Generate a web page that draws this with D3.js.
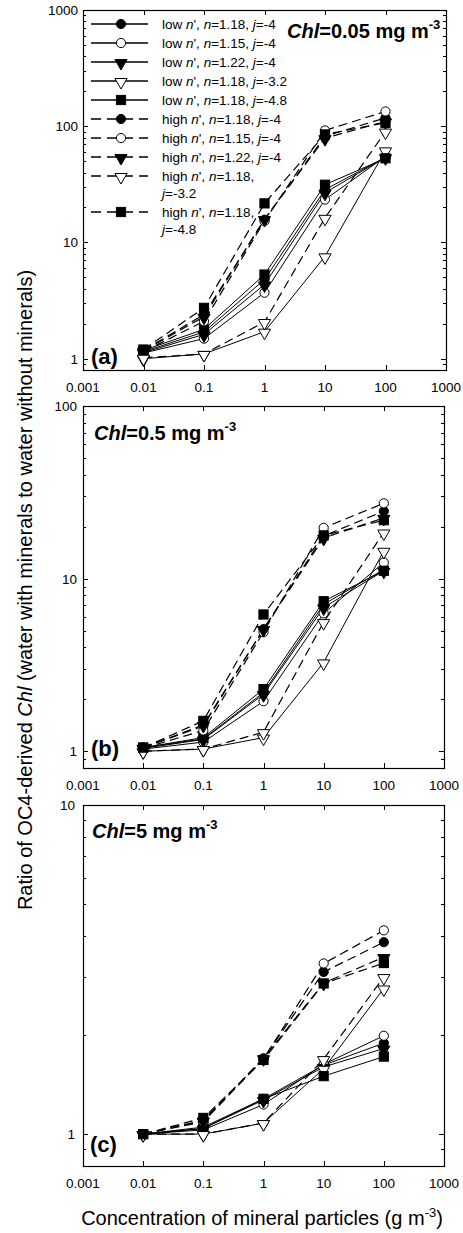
<!DOCTYPE html>
<html><head><meta charset="utf-8">
<script src="https://cdn.jsdelivr.net/npm/d3@7"></script>
<style>body{margin:0;background:#fff} text{font-family:"Liberation Sans",Arial,Helvetica,sans-serif;fill:#000}</style>
</head><body>
<svg id="chart" width="463" height="1233"></svg>
<script>
// ---------- DATA ----------
const concentrations = [0.01, 0.1, 1, 10, 100];
const xTickValues = [0.001, 0.01, 0.1, 1, 10, 100, 1000];
const xTickLabels = ["0.001", "0.01", "0.1", "1", "10", "100", "1000"];

const legendPrefix = ["low", "low", "low", "low", "low", "high", "high", "high", "high", "high"];
const legendN = ["1.18", "1.15", "1.22", "1.18", "1.18", "1.18", "1.15", "1.22", "1.18", "1.18"];
const legendJ = ["-4", "-4", "-4", "-3.2", "-4.8", "-4", "-4", "-4", "-3.2", "-4.8"];

// panel (a) Chl = 0.05 mg m-3 ; rows follow legend order
const panelA = [
  [1.15, 1.70, 4.8, 28.5, 54],
  [1.12, 1.49, 3.7, 23.4, 55],
  [1.13, 1.62, 4.35, 26.8, 54],
  [1.00, 1.10, 1.71, 7.6, 62],
  [1.18, 1.79, 5.3, 31.4, 53],
  [1.18, 2.40, 15.7, 82, 118],
  [1.15, 2.10, 15.3, 92, 134],
  [1.17, 2.30, 15.9, 79, 110],
  [1.02, 1.10, 2.07, 16.3, 90],
  [1.20, 2.74, 21.7, 85, 107]
];
const panelAYTicks = [1, 10, 100, 1000];

// panel (b) Chl = 0.5 mg m-3
const panelB = [
  [1.05, 1.18, 2.19, 7.1, 11.3],
  [1.03, 1.13, 1.95, 6.3, 12.4],
  [1.04, 1.17, 2.14, 6.8, 11.1],
  [1.00, 1.03, 1.20, 3.27, 14.5],
  [1.05, 1.20, 2.29, 7.4, 11.1],
  [1.05, 1.40, 5.1, 17.7, 24.6],
  [1.04, 1.32, 4.9, 19.7, 27.3],
  [1.05, 1.42, 5.1, 17.2, 22.5],
  [1.00, 1.03, 1.29, 5.6, 18.5],
  [1.05, 1.50, 6.2, 17.8, 21.8]
];
const panelBYTicks = [1, 10, 100];

// panel (c) Chl = 5 mg m-3
const panelC = [
  [1.00, 1.04, 1.28, 1.62, 1.89],
  [1.00, 1.03, 1.23, 1.63, 1.99],
  [1.00, 1.04, 1.27, 1.60, 1.82],
  [1.00, 1.00, 1.08, 1.58, 2.77],
  [1.00, 1.05, 1.28, 1.50, 1.72],
  [1.00, 1.10, 1.70, 3.11, 3.83],
  [1.00, 1.09, 1.69, 3.30, 4.16],
  [1.00, 1.10, 1.70, 2.88, 3.45],
  [1.00, 1.00, 1.08, 1.69, 3.00],
  [1.00, 1.12, 1.68, 2.87, 3.31]
];
const panelCYTicks = [1, 10];

const panelTitles = ["0.05", "0.5", "5"];
const panelLetters = ["(a)", "(b)", "(c)"];

// ---------- DRAWING ----------
const svg = d3.select("#chart");

const panels = [
  {vals: panelA, yTicks: panelAYTicks, ymin: 0.8, ymax: 1000, left: 83, right: 446, top: 10, bottom: 370,
   title: {x: 287, y: 38}, letter: {x: 91, y: 364}, ylabX: 78},
  {vals: panelB, yTicks: panelBYTicks, ymin: 0.8, ymax: 100, left: 83, right: 444, top: 406, bottom: 768,
   title: {x: 94, y: 440}, letter: {x: 91, y: 756}, ylabX: 77},
  {vals: panelC, yTicks: panelCYTicks, ymin: 0.8, ymax: 10, left: 83, right: 444, top: 805, bottom: 1166,
   title: {x: 92, y: 838}, letter: {x: 90, y: 1152}, ylabX: 75}
];

function marker(g, idx, cx, cy) {
  const k = idx % 5;
  const open = (k === 1 || k === 3);
  let el;
  if (k === 0 || k === 1) {
    el = g.append("circle").attr("cx", cx).attr("cy", cy).attr("r", 4.6);
  } else if (k === 2 || k === 3) {
    el = g.append("path").attr("d", d3.symbol(d3.symbolTriangle, 64)())
      .attr("transform", `translate(${cx},${cy + 1}) rotate(180)`);
  } else {
    el = g.append("rect").attr("x", cx - 4.6).attr("y", cy - 4.6).attr("width", 9.2).attr("height", 9.2);
  }
  el.attr("fill", open ? "#fff" : "#000").attr("stroke", "#000").attr("stroke-width", 1);
}

panels.forEach((p, pi) => {
  const x = d3.scaleLog().domain([0.001, 1000]).range([p.left, p.right]);
  const y = d3.scaleLog().domain([p.ymin, p.ymax]).range([p.bottom, p.top]);
  const g = svg.append("g");

  // y ticks (major + minor), both sides, inward
  const yTk = [];
  for (let e = -1; e <= 3; e++) for (let m = 1; m <= 9; m++) {
    const v = m * Math.pow(10, e);
    if (v >= p.ymin - 1e-9 && v <= p.ymax + 1e-9) yTk.push({v, major: m === 1});
  }
  yTk.forEach(t => {
    const yy = Math.round(y(t.v)) + 0.5;
    const L = t.major ? 5 : 3;
    g.append("line").attr("x1", p.left).attr("x2", p.left + L).attr("y1", yy).attr("y2", yy).attr("stroke", "#000").attr("stroke-width", 1);
    g.append("line").attr("x1", p.right).attr("x2", p.right - L).attr("y1", yy).attr("y2", yy).attr("stroke", "#000").attr("stroke-width", 1);
  });
  // x ticks (decades only), top and bottom, inward
  xTickValues.forEach(v => {
    const xx = Math.round(x(v)) + 0.5;
    g.append("line").attr("x1", xx).attr("x2", xx).attr("y1", p.bottom).attr("y2", p.bottom - 5).attr("stroke", "#000").attr("stroke-width", 1);
    g.append("line").attr("x1", xx).attr("x2", xx).attr("y1", p.top).attr("y2", p.top + 5).attr("stroke", "#000").attr("stroke-width", 1);
  });

  // frame
  g.append("rect").attr("x", p.left + 0.5).attr("y", p.top + 0.5).attr("width", p.right - p.left).attr("height", p.bottom - p.top)
    .attr("fill", "none").attr("stroke", "#000").attr("stroke-width", 1.2);

  // tick labels
  xTickValues.forEach((v, i) => {
    g.append("text").attr("x", x(v)).attr("y", p.bottom + 22).attr("text-anchor", "middle")
      .attr("font-size", 13.5).text(xTickLabels[i]);
  });
  p.yTicks.forEach(v => {
    g.append("text").attr("x", p.ylabX).attr("y", y(v) + 5).attr("text-anchor", "end")
      .attr("font-size", 13.5).text(String(v));
  });

  // lines
  const line = d3.line().x((d, i) => x(concentrations[i])).y(d => y(d));
  p.vals.forEach((row, si) => {
    g.append("path").attr("d", line(row)).attr("fill", "none").attr("stroke", "#000")
      .attr("stroke-width", si < 5 ? 1 : 1.2)
      .attr("stroke-dasharray", si < 5 ? null : "9,5");
  });
  // markers
  p.vals.forEach((row, si) => {
    row.forEach((v, i) => marker(g, si, x(concentrations[i]), y(v)));
  });

  // title
  const t = g.append("text").attr("x", p.title.x).attr("y", p.title.y).attr("font-size", 20).attr("font-weight", "bold");
  t.append("tspan").attr("font-style", "italic").text("Chl");
  t.append("tspan").text("=" + panelTitles[pi] + " mg m");
  t.append("tspan").attr("font-size", 13).attr("dy", -9).text("-3");

  // panel letter
  g.append("text").attr("x", p.letter.x).attr("y", p.letter.y).attr("font-size", 22).attr("font-weight", "bold").text(panelLetters[pi]);
});

// legend (panel a)
const lg = svg.append("g");
const legendRowY = [24, 43, 62, 81, 100, 119, 138, 157, 176, 212];
legendPrefix.forEach((pre, i) => {
  const yy = legendRowY[i];
  lg.append("line").attr("x1", 91).attr("x2", 148).attr("y1", yy).attr("y2", yy)
    .attr("stroke", "#000").attr("stroke-width", 1.5)
    .attr("stroke-dasharray", i < 5 ? null : "10,6");
  marker(lg, i, 121, yy);
  const twoLine = (i >= 8);
  const txt = lg.append("text").attr("x", 162).attr("y", yy + 5).attr("font-size", 13.5);
  txt.append("tspan").text(pre + " ");
  txt.append("tspan").attr("font-style", "italic").text("n");
  txt.append("tspan").text("', ");
  txt.append("tspan").attr("font-style", "italic").text("n");
  txt.append("tspan").text("=" + legendN[i] + ",");
  if (!twoLine) {
    txt.append("tspan").text(" ");
    txt.append("tspan").attr("font-style", "italic").text("j");
    txt.append("tspan").text("=" + legendJ[i]);
  } else {
    const t2 = lg.append("text").attr("x", 162).attr("y", yy + 22).attr("font-size", 13.5);
    t2.append("tspan").attr("font-style", "italic").text("j");
    t2.append("tspan").text("=" + legendJ[i]);
  }
});

// axis titles
const xt = svg.append("text").attr("x", 262).attr("y", 1225).attr("text-anchor", "middle").attr("font-size", 20);
xt.append("tspan").text("Concentration of mineral particles (g m");
xt.append("tspan").attr("font-size", 13).attr("dy", -8).text("-3");
xt.append("tspan").attr("dy", 8).text(")");

const yt = svg.append("text").attr("transform", "translate(32,590) rotate(-90)").attr("text-anchor", "middle").attr("font-size", 20);
yt.append("tspan").text("Ratio of OC4-derived ");
yt.append("tspan").attr("font-style", "italic").text("Chl");
yt.append("tspan").text(" (water with minerals to water without minerals)");
</script>
</body></html>
